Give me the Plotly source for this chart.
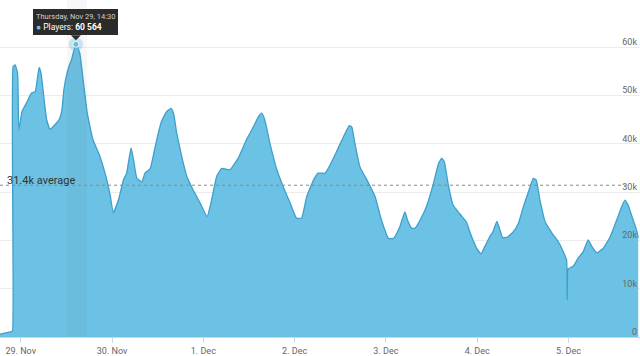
import plotly.graph_objects as go

# ---- data ----
times = [
    "2018-11-28 18:30", "2018-11-28 21:30", "2018-11-28 21:50", "2018-11-28 22:00", "2018-11-28 22:30",
    "2018-11-28 23:10", "2018-11-28 23:30", "2018-11-29 00:20", "2018-11-29 01:30", "2018-11-29 02:50",
    "2018-11-29 03:50", "2018-11-29 04:20", "2018-11-29 04:50", "2018-11-29 05:20", "2018-11-29 06:10",
    "2018-11-29 06:50", "2018-11-29 07:40", "2018-11-29 09:00", "2018-11-29 10:10", "2018-11-29 10:50",
    "2018-11-29 11:20", "2018-11-29 12:10", "2018-11-29 13:00", "2018-11-29 13:20", "2018-11-29 14:30",
    "2018-11-29 15:30", "2018-11-29 16:30", "2018-11-29 17:30", "2018-11-29 19:00", "2018-11-29 20:40",
    "2018-11-29 22:10", "2018-11-29 23:30", "2018-11-30 00:20", "2018-11-30 01:40", "2018-11-30 03:00",
    "2018-11-30 03:50", "2018-11-30 05:00", "2018-11-30 05:40", "2018-11-30 06:30", "2018-11-30 07:50",
    "2018-11-30 08:40", "2018-11-30 10:00", "2018-11-30 11:20", "2018-11-30 12:10", "2018-11-30 13:00",
    "2018-11-30 14:20", "2018-11-30 15:30", "2018-11-30 16:10", "2018-11-30 17:00", "2018-11-30 18:20",
    "2018-11-30 19:40", "2018-11-30 21:20", "2018-11-30 23:10", "2018-12-01 01:00", "2018-12-01 02:10",
    "2018-12-01 03:30", "2018-12-01 04:50", "2018-12-01 07:00", "2018-12-01 09:10", "2018-12-01 11:20",
    "2018-12-01 13:10", "2018-12-01 14:30", "2018-12-01 15:20", "2018-12-01 16:10", "2018-12-01 17:30",
    "2018-12-01 19:20", "2018-12-01 21:00", "2018-12-01 22:50", "2018-12-02 00:30", "2018-12-02 01:50",
    "2018-12-02 03:10", "2018-12-02 05:00", "2018-12-02 06:10", "2018-12-02 08:00", "2018-12-02 09:20",
    "2018-12-02 11:00", "2018-12-02 12:50", "2018-12-02 14:20", "2018-12-02 15:00", "2018-12-02 15:50",
    "2018-12-02 17:10", "2018-12-02 19:00", "2018-12-02 21:10", "2018-12-02 22:50", "2018-12-03 00:40",
    "2018-12-03 02:00", "2018-12-03 03:40", "2018-12-03 05:00", "2018-12-03 05:40", "2018-12-03 06:50",
    "2018-12-03 07:40", "2018-12-03 09:00", "2018-12-03 10:40", "2018-12-03 12:30", "2018-12-03 13:50",
    "2018-12-03 14:40", "2018-12-03 15:20", "2018-12-03 16:20", "2018-12-03 17:40", "2018-12-03 19:30",
    "2018-12-03 21:10", "2018-12-03 22:10", "2018-12-03 23:50", "2018-12-04 01:00", "2018-12-04 02:00",
    "2018-12-04 03:20", "2018-12-04 04:10", "2018-12-04 05:10", "2018-12-04 05:50", "2018-12-04 06:40",
    "2018-12-04 07:50", "2018-12-04 09:30", "2018-12-04 10:50", "2018-12-04 12:10", "2018-12-04 13:30",
    "2018-12-04 14:45", "2018-12-04 15:30", "2018-12-04 16:30", "2018-12-04 17:50", "2018-12-04 19:40",
    "2018-12-04 21:20", "2018-12-04 22:40", "2018-12-04 23:30", "2018-12-04 23:40", "2018-12-04 23:50",
    "2018-12-05 00:10", "2018-12-05 01:20", "2018-12-05 02:30", "2018-12-05 03:50", "2018-12-05 05:10",
    "2018-12-05 06:10", "2018-12-05 07:30", "2018-12-05 09:10", "2018-12-05 11:00", "2018-12-05 12:40",
    "2018-12-05 14:00", "2018-12-05 14:50", "2018-12-05 15:40", "2018-12-05 17:00", "2018-12-05 18:00",
    "2018-12-05 18:20",
]
players = [
    600, 1100, 1200, 56000, 56300,
    54600, 42800, 46600, 48400, 50500,
    50800, 53200, 55800, 54600, 49000,
    44900, 43000, 43900, 45100, 47000,
    51100, 54600, 56700, 57300, 60564,
    58800, 52600, 46300, 40800, 37700,
    33900, 29400, 25700, 28300, 32500,
    33900, 39100, 36600, 32900, 32100,
    33900, 34800, 39300, 42200, 44600,
    46600, 47300, 46300, 42200, 37300,
    33200, 30400, 27700, 24900, 28300,
    33200, 34900, 34600, 37000, 40800,
    43500, 45600, 46300, 44900, 40100,
    34600, 31100, 27700, 24600, 24600,
    29000, 32500, 33900, 33900, 35600,
    38300, 41400, 43700, 43500, 40100,
    35200, 32500, 29000, 24200, 20400,
    20400, 22800, 25900, 24200, 22500,
    22500, 24200, 27000, 31800, 35900,
    37000, 36300, 31800, 27300, 25400,
    23800, 21500, 18400, 17200, 18700,
    20800, 21800, 23900, 22500, 20600,
    20600, 21800, 23500, 27000, 30100,
    32800, 32500, 28300, 23900, 21500,
    19700, 17600, 15900, 7700, 14000,
    14200, 14700, 16300, 17600, 20100,
    18700, 17400, 18400, 20800, 24200,
    27000, 28300, 27300, 24200, 21800,
    20500,
]
average = 31400
peak_time = "2018-11-29 14:30"
peak_value = 60564
band_start = "2018-11-29 12:10"
band_end = "2018-11-29 17:25"
y_ticks = [0, 10000, 20000, 30000, 40000, 50000, 60000]
y_tick_text = ["0", "10k", "20k", "30k", "40k", "50k", "60k"]

FONT = "Roboto, 'Liberation Sans', Arial, sans-serif"
FILL = "#6cc2e4"
LINE = "#3f9fcc"
TIP_BG = "rgba(20,20,20,0.9)"

fig = go.Figure()

fig.add_trace(go.Scatter(
    x=times, y=players, mode="lines",
    line=dict(color=LINE, width=1.3, shape="spline", smoothing=0.4),
    fill="tozeroy", fillcolor=FILL,
    hoverinfo="skip", showlegend=False,
))

# highlighted point (halo + marker)
fig.add_trace(go.Scatter(
    x=[peak_time], y=[peak_value], mode="markers",
    marker=dict(size=14, color="rgba(108,194,228,0.35)", line=dict(width=0)),
    hoverinfo="skip", showlegend=False,
))
fig.add_trace(go.Scatter(
    x=[peak_time], y=[peak_value], mode="markers",
    marker=dict(size=6, color="#6cc2e4", line=dict(width=1, color="#ffffff")),
    hoverinfo="skip", showlegend=False,
))

# crosshair band
fig.add_shape(
    type="rect", xref="x", yref="paper",
    x0=band_start, x1=band_end, y0=0, y1=1,
    fillcolor="rgba(90,100,120,0.05)", line=dict(width=0), layer="above",
)

# average line
fig.add_shape(
    type="line", xref="paper", yref="y",
    x0=0, x1=0.978, y0=average, y1=average,
    line=dict(color="#8a8a8a", width=1, dash="3px,3px"), layer="above",
)
fig.add_annotation(
    xref="paper", yref="y", x=0, y=average,
    text="31.4k average", showarrow=False,
    xanchor="left", yanchor="middle", xshift=5, yshift=5,
    font=dict(family=FONT, size=11, color="#333333"),
)

# tooltip box
fig.add_annotation(
    xref="x", yref="y", x=peak_time, y=peak_value,
    text=("<span style='font-size:7.5px;color:#d0d0d0'>Thursday, Nov 29, 14:30</span><br>"
          "<span style='color:#6cc2e4'>●</span> Players: <b>60 564</b>"),
    showarrow=False, align="left",
    xanchor="center", yanchor="bottom", yshift=9,
    bgcolor=TIP_BG, borderpad=3, borderwidth=0,
    font=dict(family=FONT, size=8.5, color="#ffffff"),
)
# tooltip pointer (pixel-sized triangle anchored at the point)
fig.add_shape(
    type="path", xref="x", yref="y",
    xsizemode="pixel", ysizemode="pixel",
    xanchor=peak_time, yanchor=peak_value,
    path="M -5 9 L 5 9 L 0 4 Z",
    fillcolor=TIP_BG, line=dict(width=0), layer="above",
)

fig.update_layout(
    width=640, height=356,
    margin=dict(l=0, r=0, t=0, b=19),
    paper_bgcolor="#ffffff", plot_bgcolor="#ffffff",
    hovermode=False,
    font=dict(family=FONT),
    xaxis=dict(
        type="date",
        range=["2018-11-28 18:33", "2018-12-05 18:48"],
        tick0="2018-11-29", dtick=86400000,
        tickformat="%-d. %b",
        showgrid=False, zeroline=False,
        ticks="outside", ticklen=5, tickcolor="#ccd6eb",
        showline=True, linecolor="#ccd6eb", linewidth=1,
        tickfont=dict(family=FONT, size=9, color="#666666"),
    ),
    yaxis=dict(
        range=[0, 69724],
        side="right",
        tickvals=y_ticks, ticktext=y_tick_text,
        ticklabelposition="inside top",
        ticklabelshift=1,
        showgrid=True, gridcolor="#ececec", gridwidth=1,
        zeroline=False, showline=False,
        tickfont=dict(family=FONT, size=9, color="#666666"),
    ),
)

fig.write_html("out.html")
